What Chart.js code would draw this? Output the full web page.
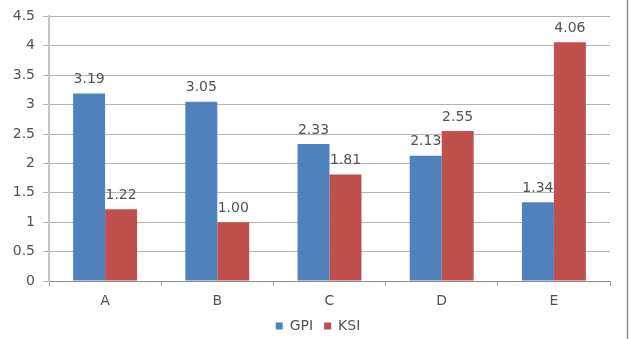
<!DOCTYPE html>
<html>
<head>
<meta charset="utf-8">
<script src="https://cdn.jsdelivr.net/npm/chart.js@4/dist/chart.umd.min.js"></script>
<style>
  html, body { margin: 0; padding: 0; background: #ffffff; }
  #wrap { width: 631px; height: 339px; position: relative; }
</style>
</head>
<body>
<div id="wrap"><canvas id="c" width="631" height="339"></canvas></div>
<script>
const categories = ['A', 'B', 'C', 'D', 'E'];
const gpiValues = [3.19, 3.05, 2.33, 2.13, 1.34];
const ksiValues = [1.22, 1.00, 1.81, 2.55, 4.06];
const seriesNames = ['GPI', 'KSI'];

const FONT = "'DejaVu Sans', sans-serif";
const TEXT = '#525252';

// Value labels printed above each bar
const valueLabels = {
  id: 'valueLabels',
  afterDatasetsDraw(chart) {
    const ctx = chart.ctx;
    ctx.save();
    ctx.font = '14px ' + FONT;
    ctx.fillStyle = TEXT;
    ctx.textAlign = 'center';
    ctx.textBaseline = 'bottom';
    chart.data.datasets.forEach((ds, i) => {
      chart.getDatasetMeta(i).data.forEach((bar, j) => {
        ctx.fillText(ds.data[j].toFixed(2), bar.x, bar.y - 7);
      });
    });
    ctx.restore();
  }
};

// Thin frame line along the right edge
const rightFrame = {
  id: 'rightFrame',
  afterDraw(chart) {
    const ctx = chart.ctx;
    ctx.save();
    ctx.strokeStyle = '#8c8c8c';
    ctx.lineWidth = 1.5;
    ctx.beginPath();
    ctx.moveTo(627.5, 0);
    ctx.lineTo(627.5, chart.height);
    ctx.stroke();
    ctx.restore();
  }
};

// Nudge the legend so it sits under the middle of the plot
const legendShift = {
  id: 'legendShift',
  afterLayout(chart) {
    if (chart.legend) {
      chart.legend.left += 13;
      chart.legend.right += 13;
    }
  }
};

new Chart(document.getElementById('c'), {
  type: 'bar',
  data: {
    labels: categories,
    datasets: [
      { label: seriesNames[0], data: gpiValues, backgroundColor: '#4f81bd' },
      { label: seriesNames[1], data: ksiValues, backgroundColor: '#c0504d' }
    ]
  },
  options: {
    responsive: false,
    animation: false,
    layout: { padding: { top: 15, right: 21, left: 0, bottom: -4 } },
    datasets: { bar: { categoryPercentage: 0.57, barPercentage: 1.0 } },
    scales: {
      x: {
        grid: { drawOnChartArea: false, drawTicks: true, tickLength: 5, color: '#9a9a9a' },
        border: { color: '#8c8c8c', width: 1 },
        ticks: { color: TEXT, font: { family: FONT, size: 14 }, padding: 7 },
        afterFit(scale) { scale.height = 27; }
      },
      y: {
        min: 0,
        max: 4.5,
        ticks: {
          stepSize: 0.5,
          color: TEXT,
          font: { family: FONT, size: 14 },
          padding: 8,
          callback: (v) => String(v)
        },
        grid: { color: '#b4b4b4', tickLength: 6 },
        border: { color: '#c4c4c4', width: 2 },
        afterFit(scale) { scale.width = 49; }
      }
    },
    plugins: {
      legend: {
        position: 'bottom',
        labels: {
          color: TEXT,
          font: { family: FONT, size: 14 },
          boxWidth: 7,
          boxHeight: 7,
          padding: 11,
          useBorderRadius: false
        }
      },
      tooltip: { enabled: false }
    }
  },
  plugins: [valueLabels, rightFrame, legendShift]
});
</script>
</body>
</html>
